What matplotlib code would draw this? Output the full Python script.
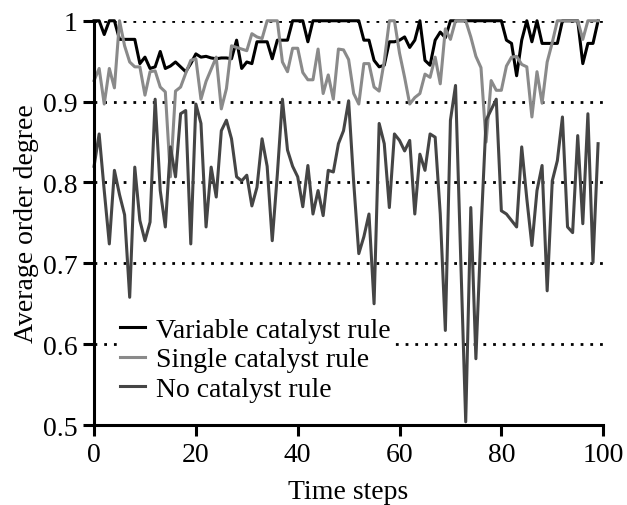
import numpy as np
import matplotlib
matplotlib.use("Agg")
import matplotlib.pyplot as plt

plt.rcParams["font.family"] = ["Liberation Serif", "DejaVu Serif"]

# time axis
steps = list(range(100))

# Variable catalyst rule
variable = [
    1.0, 1.0, 0.983, 1.0, 1.0, 0.977, 0.977, 0.977, 0.977, 0.947,
    0.955, 0.941, 0.943, 0.962, 0.941, 0.944, 0.949, 0.943, 0.937, 0.947,
    0.959, 0.955, 0.956, 0.954, 0.953, 0.954, 0.954, 0.953, 0.976, 0.941,
    0.949, 0.947, 0.974, 0.974, 0.974, 0.953, 0.976, 0.976, 0.976, 1.0,
    1.0, 1.0, 0.974, 1.0, 1.0, 1.0, 1.0, 1.0, 1.0, 1.0,
    1.0, 1.0, 1.0, 0.976, 0.976, 0.951, 0.943, 0.945, 0.974, 0.974,
    0.976, 0.98, 0.967, 0.976, 1.0, 0.951, 0.945, 0.976, 0.986, 0.979,
    1.0, 1.0, 1.0, 1.0, 1.0, 1.0, 1.0, 1.0, 1.0, 1.0,
    1.0, 0.976, 0.972, 0.932, 0.976, 1.0, 0.974, 1.0, 0.972, 0.972,
    0.972, 0.972, 1.0, 1.0, 1.0, 1.0, 0.947, 0.972, 0.972, 1.0,
]

# Single catalyst rule
single = [
    0.926, 0.941, 0.897, 0.941, 0.917, 1.0, 0.969, 0.949, 0.943, 0.943,
    0.908, 0.937, 0.938, 0.918, 0.912, 0.807, 0.913, 0.918, 0.935, 0.951,
    0.953, 0.903, 0.925, 0.94, 0.955, 0.891, 0.916, 0.969, 0.967, 0.965,
    0.963, 0.984, 0.98, 0.978, 1.0, 1.0, 1.0, 0.949, 0.937, 0.966,
    0.966, 0.936, 0.927, 0.927, 0.965, 0.91, 0.933, 0.903, 0.965, 0.964,
    0.952, 0.91, 0.897, 0.947, 0.947, 0.918, 0.913, 0.95, 1.0, 1.0,
    0.96, 0.93, 0.897, 0.905, 0.91, 0.934, 0.93, 0.955, 0.922, 0.99,
    0.977, 1.0, 1.0, 1.0, 0.98, 0.956, 0.942, 0.85, 0.926, 0.914,
    0.914, 0.944, 0.955, 0.956, 0.946, 0.943, 0.881, 0.937, 0.898, 0.949,
    0.973, 1.0, 1.0, 1.0, 1.0, 1.0, 0.977, 1.0, 1.0, 1.0,
]

# No catalyst rule
none = [
    0.82, 0.86, 0.79, 0.724, 0.815, 0.785, 0.76, 0.658, 0.819, 0.753,
    0.728, 0.751, 0.903, 0.79, 0.745, 0.844, 0.807, 0.885, 0.889, 0.724,
    0.897, 0.873, 0.745, 0.819, 0.782, 0.864, 0.877, 0.854, 0.807, 0.802,
    0.809, 0.771, 0.794, 0.854, 0.82, 0.728, 0.81, 0.903, 0.84, 0.82,
    0.807, 0.77, 0.821, 0.761, 0.79, 0.759, 0.815, 0.813, 0.848, 0.864,
    0.901, 0.80, 0.712, 0.733, 0.761, 0.65, 0.873, 0.848, 0.769, 0.86,
    0.852, 0.839, 0.852, 0.761, 0.835, 0.815, 0.86, 0.856, 0.761, 0.617,
    0.877, 0.92, 0.71, 0.504, 0.769, 0.582, 0.74, 0.877, 0.89, 0.903,
    0.765, 0.761, 0.753, 0.745, 0.844, 0.78, 0.722, 0.79, 0.821, 0.666,
    0.802, 0.827, 0.881, 0.745, 0.738, 0.858, 0.749, 0.885, 0.701, 0.848,
]

labels = ["Variable catalyst rule", "Single catalyst rule", "No catalyst rule"]
colors = ["#000000", "#8a8a8a", "#454545"]

x_ticks = [0, 20, 40, 60, 80, 100]
y_ticks = [0.5, 0.6, 0.7, 0.8, 0.9, 1.0]

fig = plt.figure(figsize=(6.27, 5.06), dpi=100)
ax = fig.add_axes([0.15, 0.158, 0.812, 0.799])

for yv in y_ticks:
    ax.axhline(yv, color="black", linewidth=2, linestyle=(0, (1, 2.5)), zorder=1)

for series, lab, col in zip([variable, single, none], labels, colors):
    ax.plot(steps, series, color=col, linewidth=2.2, label=lab,
            clip_on=False, zorder=3)

ax.set_xlim(0, 100)
ax.set_ylim(0.5, 1.0)
ax.set_xticks(x_ticks)
ax.set_yticks(y_ticks)
ax.set_yticklabels(["0.5", "0.6", "0.7", "0.8", "0.9", "1"])

for side in ["top", "right"]:
    ax.spines[side].set_visible(False)
for side in ["left", "bottom"]:
    ax.spines[side].set_linewidth(2.2)
    ax.spines[side].set_zorder(4)

ax.tick_params(direction="out", length=8, width=2.2, labelsize=20, pad=4)
ax.set_xlabel("Time steps", fontsize=20, labelpad=9)
ax.set_ylabel("Average order degree", fontsize=20, labelpad=3)

leg = ax.legend(loc="lower left", bbox_to_anchor=(0.045, 0.05), fontsize=20,
                frameon=True, fancybox=False, edgecolor="none",
                framealpha=1.0, borderpad=0.1, labelspacing=0.15,
                handlelength=0.9, handletextpad=0.4, borderaxespad=0)
leg.set_zorder(5)

fig.savefig("out.png", dpi=100)
